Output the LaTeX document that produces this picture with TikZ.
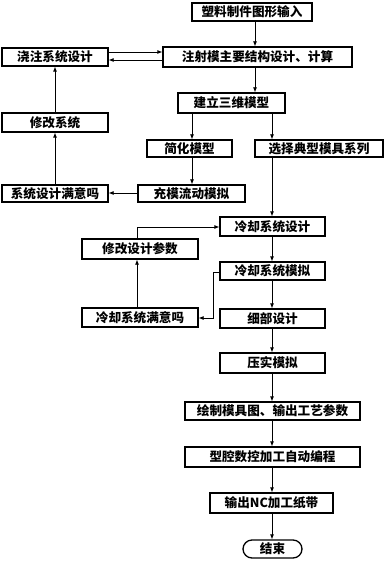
\documentclass[tikz,border=0pt]{standalone}
\usepackage{fontspec}
\newfontfamily\cjk{Noto Sans CJK SC}
\usetikzlibrary{arrows.meta,calc}
\begin{document}
\begin{tikzpicture}[x=1pt,y=-1pt,
  box/.style={draw, line width=1.3pt, inner sep=0pt, font=\cjk\bfseries\fontsize{12.6}{14}\selectfont},
  arr/.style={line width=0.8pt, -{Latex[length=5pt,width=4pt]}},
  ln/.style={line width=0.8pt}]
\useasboundingbox[fill=white] (0,0) rectangle (391,561);
\node[box, minimum width=120pt, minimum height=18pt] (in) at (252,12) {塑料制件图形输入};
\node[box, minimum width=189pt, minimum height=20pt] (main) at (257.5,57) {注射模主要结构设计、计算};
\node[box, minimum width=106pt, minimum height=18pt] (pour) at (55,57) {浇注系统设计};
\node[box, minimum width=107pt, minimum height=20pt] (model) at (231.5,103) {建立三维模型};
\node[box, minimum width=106pt, minimum height=19pt] (modsys) at (55,122.5) {修改系统};
\node[box, minimum width=85pt, minimum height=17pt] (simp) at (189.5,148.5) {简化模型};
\node[box, minimum width=128pt, minimum height=17pt] (sel) at (319,148.5) {选择典型模具系列};
\node[box, minimum width=106pt, minimum height=17pt] (sat1) at (55,193.5) {系统设计满意吗};
\node[box, minimum width=107pt, minimum height=17pt] (fill) at (191.5,193.5) {充模流动模拟};
\node[box, minimum width=105pt, minimum height=19pt] (cool) at (272.5,226.5) {冷却系统设计};
\node[box, minimum width=116pt, minimum height=20pt] (modpar) at (140,249) {修改设计参数};
\node[box, minimum width=105pt, minimum height=18pt] (coolsim) at (272.5,271) {冷却系统模拟};
\node[box, minimum width=116pt, minimum height=19pt] (sat2) at (140,317.5) {冷却系统满意吗};
\node[box, minimum width=105pt, minimum height=19pt] (detail) at (272.5,318.5) {细部设计};
\node[box, minimum width=105pt, minimum height=20pt] (pack) at (272.5,363) {压实模拟};
\node[box, minimum width=175pt, minimum height=18pt] (drawing) at (272.5,411) {绘制模具图、输出工艺参数};
\node[box, minimum width=175pt, minimum height=20pt] (cnc) at (272.5,457) {型腔数控加工自动编程};
\node[box, minimum width=123pt, minimum height=20pt] (nc) at (271.5,503) {输出NC加工纸带};
\node[box, minimum width=59pt, minimum height=18pt, rounded corners=9pt] (end) at (272.5,549) {结束};
% helper coordinates
\coordinate (c255) at (255,0);
\coordinate (c192) at (192,0);
\coordinate (c272) at (272,0);
\coordinate (c55) at (55,0);
\coordinate (c137) at (137,0);
\coordinate (c213) at (213,0);
\coordinate (r52) at (0,52);
\coordinate (r60) at (0,60);
\coordinate (r193) at (0,193);
\coordinate (r227) at (0,227);
\coordinate (r272) at (0,272);
\coordinate (r318) at (0,318);
% connectors
\draw[arr] (in.south -| c255) -- (main.north -| c255);
\draw[arr] (pour.east |- r52) -- (main.west |- r52);
\draw[arr] (main.west |- r60) -- (pour.east |- r60);
\draw[arr] (main.south -| c255) -- (model.north -| c255);
\draw[arr] (model.south -| c192) -- (simp.north -| c192);
\draw[arr] (model.south -| c272) -- (sel.north -| c272);
\draw[arr] (simp.south -| c192) -- (fill.north -| c192);
\draw[arr] (fill.west |- r193) -- (sat1.east |- r193);
\draw[arr] (sat1.north -| c55) -- (modsys.south -| c55);
\draw[arr] (modsys.north -| c55) -- (pour.south -| c55);
\draw[arr] (sel.south -| c272) -- (cool.north -| c272);
\draw[arr] (cool.south -| c272) -- (coolsim.north -| c272);
\draw[arr] (coolsim.south -| c272) -- (detail.north -| c272);
\draw[arr] (detail.south -| c272) -- (pack.north -| c272);
\draw[arr] (pack.south -| c272) -- (drawing.north -| c272);
\draw[arr] (drawing.south -| c272) -- (cnc.north -| c272);
\draw[arr] (cnc.south -| c272) -- (nc.north -| c272);
\draw[arr] (nc.south -| c272) -- (end.north -| c272);
\draw[arr] (coolsim.west |- r272) -- (c213 |- r272) -- (c213 |- r318) -- (sat2.east |- r318);
\draw[arr] (sat2.north -| c137) -- (modpar.south -| c137);
\draw[arr] (modpar.north -| c137) -- (c137 |- r227) -- (cool.west |- r227);
\end{tikzpicture}
\end{document}
